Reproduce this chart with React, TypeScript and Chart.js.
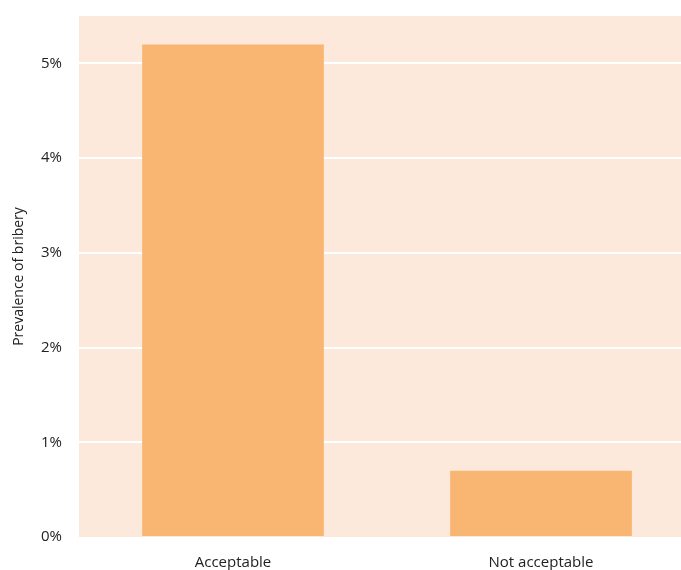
import React, { useEffect, useRef } from "react";
import { Chart, registerables } from "chart.js";

Chart.register(...registerables);

const categories = ["Acceptable", "Not acceptable"];
const prevalence = [5.2, 0.7];
const yTickValues = [0, 1, 2, 3, 4, 5];
const yMax = 5.5;
const yTitle = "Prevalence of bribery";

const plotBackground = {
  id: "plotBackground",
  beforeDraw(chart: any) {
    const { ctx, chartArea } = chart;
    ctx.save();
    ctx.fillStyle = "#fde9db";
    ctx.fillRect(chartArea.left, chartArea.top, chartArea.right - chartArea.left, chartArea.bottom - chartArea.top);
    ctx.restore();
  },
};

export default function App() {
  const ref = useRef<HTMLCanvasElement | null>(null);
  useEffect(() => {
    if (!ref.current) return;
    const font = { family: "'Open Sans', sans-serif", size: 15 };
    const chart = new Chart(ref.current, {
      type: "bar",
      data: {
        labels: categories,
        datasets: [
          {
            data: prevalence,
            backgroundColor: "#f8b672",
            barPercentage: 0.59,
            categoryPercentage: 1,
          },
        ],
      },
      plugins: [plotBackground],
      options: {
        animation: false,
        responsive: false,
        maintainAspectRatio: false,
        layout: { padding: { top: 16, right: 6, left: 0, bottom: 0 } },
        plugins: { legend: { display: false }, tooltip: { enabled: false } },
        scales: {
          x: {
            grid: { display: false },
            border: { display: false },
            ticks: { color: "#222", font, padding: 9 },
            afterFit(scale: any) {
              scale.height = 33;
              scale.paddingLeft = 0;
              scale.paddingRight = 0;
            },
          },
          y: {
            min: 0,
            max: yMax,
            border: { display: false },
            grid: {
              color: (c: any) => (c.tick && c.tick.value > 0 && c.tick.value <= 5 ? "#ffffff" : "rgba(0,0,0,0)"),
              lineWidth: 2,
              drawTicks: false,
            },
            afterBuildTicks(scale: any) {
              scale.ticks = yTickValues.map((v) => ({ value: v }));
            },
            ticks: {
              color: "#222",
              font,
              padding: 17,
              callback: (v: any) => `${v}%`,
            },
            title: {
              display: true,
              text: yTitle,
              color: "#222",
              font: { family: "'Open Sans', sans-serif", size: 14 },
              padding: { top: 11, bottom: 0 },
            },
            afterFit(scale: any) {
              scale.width = 79;
              scale.paddingTop = 0;
              scale.paddingBottom = 0;
            },
          },
        },
      },
    });
    return () => chart.destroy();
  }, []);
  return (
    <div style={{ position: "absolute", left: 0, top: 0, width: 681, height: 570, overflow: "hidden", background: "#fff" }}>
      <canvas ref={ref} width={701} height={570} style={{ display: "block" }} />
    </div>
  );
}
